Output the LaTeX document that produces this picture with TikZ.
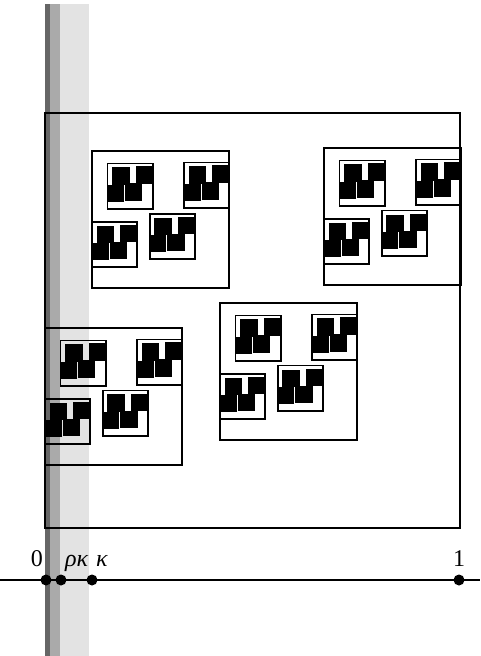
\documentclass[tikz,border=0pt]{standalone}
\usepackage{fontspec}
\setmainfont{Liberation Serif}
\definecolor{stripdark}{HTML}{666666}
\definecolor{stripmid}{HTML}{AAAAAA}
\definecolor{striplight}{HTML}{E3E3E3}
\newcommand\mysq[4]{%
  \ifnum#4<2
    \draw[sqline] (#1,#2) rectangle ++(#3,#3);
    \foreach \ox/\oy in {0.1133/0.0916, 0.6723/0.0843, 0/0.518, 0.4217/0.4578}{%
      \pgfmathsetmacro\nx{#1+\ox*#3}%
      \pgfmathsetmacro\ny{#2+\oy*#3}%
      \pgfmathsetmacro\ns{0.33*#3}%
      \pgfmathtruncatemacro\nl{#4+1}%
      \edef\mytmp{\noexpand\mysq{\nx}{\ny}{\ns}{\nl}}\mytmp
    }%
  \else
    \draw[sqthin] (#1,#2) rectangle ++(#3,#3);
    \foreach \ox/\oy in {0.11/0.09, 0.625/0.07, -0.01/0.475, 0.395/0.445}{%
      \pgfmathsetmacro\nx{#1+\ox*#3}%
      \pgfmathsetmacro\ny{#2+\oy*#3}%
      \pgfmathsetmacro\ns{0.36*#3}%
      \filldraw[blk] (\nx,\ny) rectangle ++(\ns,\ns);
    }%
  \fi}
\begin{document}
\begin{tikzpicture}[x=1pt,y=-1pt,
  sqline/.style={line width=1.8pt},
  sqthin/.style={line width=1.6pt},
  blk/.style={fill=black,draw=black,line width=0.5pt},
  axis/.style={line width=1.6pt},
  pt/.style={circle,fill=black,inner sep=0pt,minimum size=11pt},
  lbl/.style={font=\fontsize{24}{28}\selectfont,inner sep=0pt}]
\useasboundingbox (0,0) rectangle (480,656);
% strips
\fill[striplight] (60,4.3) rectangle (89.3,656);
\fill[stripmid] (50.3,4.3) rectangle (60,656);
\fill[stripdark] (44.7,4.3) rectangle (50.3,656);
% fractal squares
\mysq{45}{113}{415}{0}
% axis
\coordinate (axl) at (0,580);
\coordinate (axr) at (480,580);
\draw[axis] (axl) -- (axr);
\node[pt] (p0) at (46,580) {};
\node[pt] (prk) at (61,580) {};
\node[pt] (pk) at (92,580) {};
\node[pt] (p1) at (459,580) {};
\node[lbl,anchor=base east] (l0) at (43,566) {0};
\node[lbl,anchor=base west] (lrk) at (65,566) {\textit{ρκ}};
\node[lbl,anchor=base west] (lk) at (96,566) {\textit{κ}};
\node[lbl,anchor=base] (l1) at (459,566) {1};
\end{tikzpicture}
\end{document}
